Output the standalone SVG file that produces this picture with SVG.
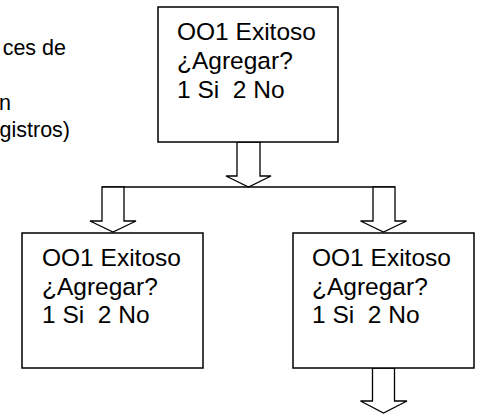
<svg xmlns="http://www.w3.org/2000/svg" width="477" height="414" viewBox="0 0 477 414">
  <style>
    .box { fill: #ffffff; stroke: #000000; stroke-width: 1.5; }
    .arr { fill: #ffffff; stroke: #000000; stroke-width: 1.3; stroke-linejoin: miter; }
    .ln { fill: none; stroke: #000000; stroke-width: 1.3; }
    .t { font-family: "Liberation Sans", Arial, sans-serif; font-size: 24.5px; fill: #000000; white-space: pre; }
    .side { font-family: "Liberation Sans", Arial, sans-serif; font-size: 21.5px; fill: #000000; }
  </style>
  <rect width="477" height="414" fill="#ffffff"/>
  <g id="side-text">
    <text class="side" x="66" y="55" text-anchor="end">ces de</text>
    <text class="side" x="11" y="110" text-anchor="end">n</text>
    <text class="side" x="70" y="137" text-anchor="end">gistros)</text>
  </g>
  <g id="connectors">
    <polygon class="arr" points="237,142 260,142 260,176 271,176 248.5,187 226,176 237,176"/>
    <path class="ln" d="M102,187 H395"/>
    <polygon class="arr" points="102,187 124,187 124,221 136,221 113,232 90,221 102,221"/>
    <polygon class="arr" points="373,187 395,187 395,221 406.5,221 383.5,232 360.5,221 373,221"/>
    <polygon class="arr" points="372.5,368 394.5,368 394.5,401 407,401 383.5,413 360.5,401 372.5,401"/>
  </g>
  <g id="node-top">
    <rect class="box" x="158" y="7" width="180" height="135"/>
    <text class="t" x="177" y="40">OO1 Exitoso</text>
    <text class="t" x="177" y="69">¿Agregar?</text>
    <text class="t" x="177" y="98" xml:space="preserve">1 Si  2 No</text>
  </g>
  <g id="node-left">
    <rect class="box" x="22" y="233" width="181" height="135"/>
    <text class="t" x="42" y="266">OO1 Exitoso</text>
    <text class="t" x="42" y="295">¿Agregar?</text>
    <text class="t" x="42" y="323" xml:space="preserve">1 Si  2 No</text>
  </g>
  <g id="node-right">
    <rect class="box" x="293" y="233" width="181" height="135"/>
    <text class="t" x="312" y="266">OO1 Exitoso</text>
    <text class="t" x="312" y="295">¿Agregar?</text>
    <text class="t" x="312" y="323" xml:space="preserve">1 Si  2 No</text>
  </g>
</svg>
